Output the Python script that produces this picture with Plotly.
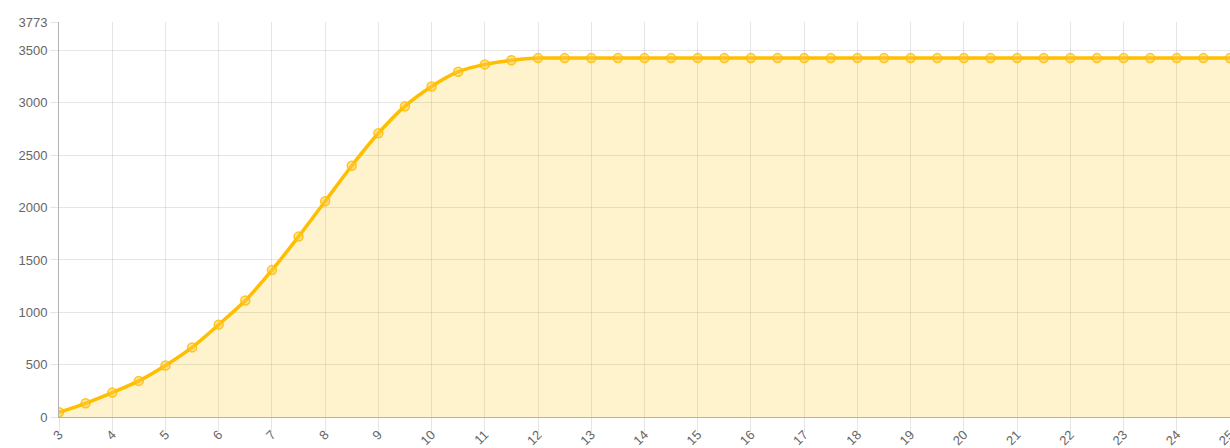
import plotly.graph_objects as go

x_values = [3 + 0.5 * i for i in range(45)]
y_values = [45, 131, 233, 345, 492, 665, 882, 1112, 1403, 1723, 2061, 2400, 2710, 2969,
            3157, 3298, 3368, 3407, 3428] + [3428] * 26
y_tickvals = [0, 500, 1000, 1500, 2000, 2500, 3000, 3500, 3773]
x_tickvals = list(range(3, 26))

line_color = "rgb(255,190,0)"

fig = go.Figure()
fig.add_trace(go.Scatter(
    x=x_values, y=y_values, mode="lines+markers",
    line=dict(color=line_color, width=3.5, shape="spline", smoothing=0.8),
    marker=dict(size=9, color="rgba(255,200,60,0.5)", line=dict(color="rgba(255,190,0,0.85)", width=1.5)),
    fill="tozeroy", fillcolor="rgba(255,193,7,0.2)",
    hoverinfo="x+y", showlegend=False,
))

fig.update_layout(
    width=1230, height=448,
    margin=dict(l=59, r=0, t=22, b=31, autoexpand=False),
    paper_bgcolor="white", plot_bgcolor="white",
    font=dict(family="Liberation Sans, Arial, sans-serif", size=13, color="#666"),
)
fig.update_xaxes(
    range=[3, 25], tickvals=x_tickvals, ticktext=[str(v) for v in x_tickvals],
    tickangle=-45, showgrid=True, gridcolor="rgba(0,0,0,0.1)", gridwidth=1,
    ticks="outside", ticklen=14, tickcolor="rgba(0,0,0,0.1)",
    ticklabelstandoff=-10,
    showline=True, linecolor="rgba(0,0,0,0.3)", linewidth=1,
    zeroline=False, automargin=False, ticklabeloverflow="allow",
    tickfont=dict(size=13, color="#666"),
)
fig.update_yaxes(
    range=[0, 3773], tickvals=y_tickvals, ticktext=[str(v) for v in y_tickvals],
    showgrid=True, gridcolor="rgba(0,0,0,0.1)", gridwidth=1,
    ticks="outside", ticklen=8, tickcolor="rgba(0,0,0,0.1)",
    showline=True, linecolor="rgba(0,0,0,0.3)", linewidth=1,
    zeroline=False, automargin=False, ticklabeloverflow="allow",
    tickfont=dict(size=13, color="#666"),
)

fig.write_html("out.html", config={"displayModeBar": False},
               post_script="document.body.style.margin='0px';")
